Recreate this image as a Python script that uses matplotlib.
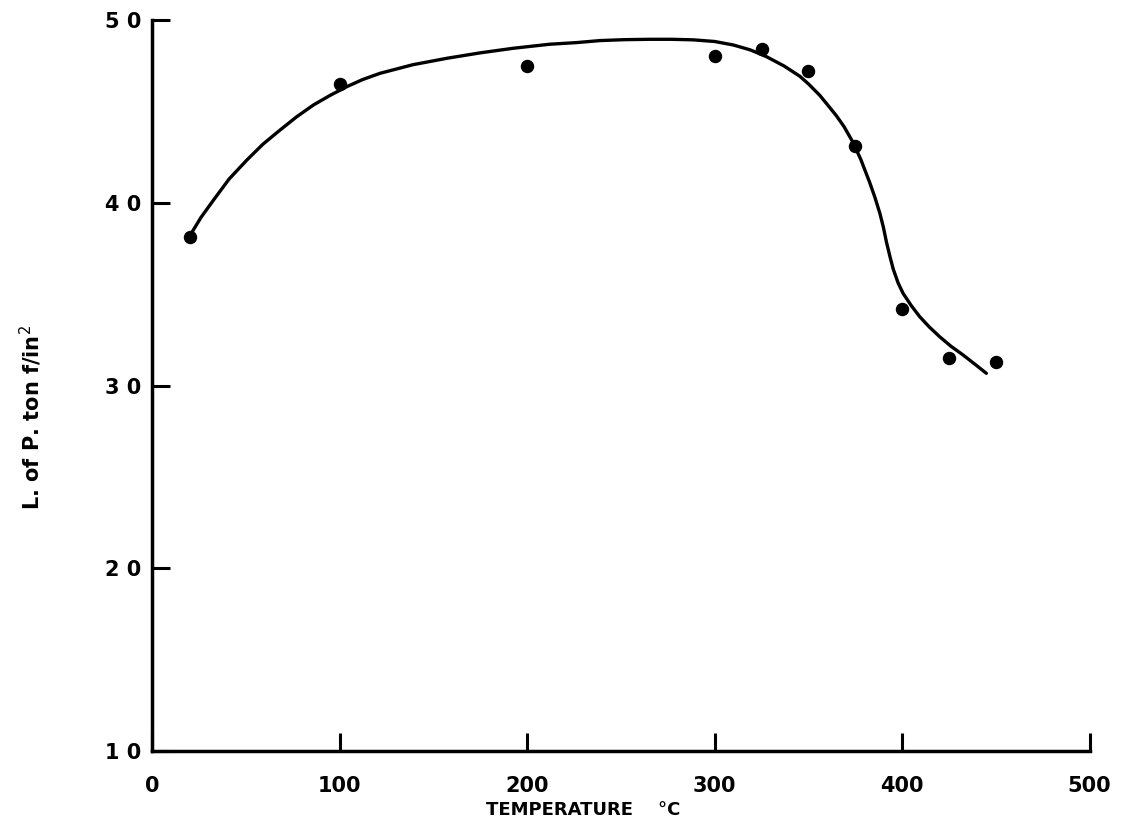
import numpy as np
import matplotlib
matplotlib.use("Agg")
from matplotlib import pyplot as plt

# measured points
temp = [20, 100, 200, 300, 325, 350, 375, 400, 425, 450]
lop = [38.1, 46.5, 47.5, 48.0, 48.4, 47.2, 43.1, 34.2, 31.5, 31.3]

# hand drawn curve
curve_t = [20.3, 26, 32.7, 41, 50.5, 59, 68.2, 77, 86.0, 95, 103.8, 112,
           121.5, 139, 157.1, 175, 192.6, 212, 226.4, 238.8, 252, 265.5,
           277, 288.5, 300, 309.9, 319, 327.6, 337, 345.4, 350, 356, 360,
           364.9, 369, 373.8, 378, 382.7, 385.5, 388.1, 390, 391.6, 393.5,
           395.2, 397.8, 400.5, 405, 409.4, 414.5, 420.0, 426, 432.5, 439,
           444.9]
curve_y = [38.24, 39.2, 40.15, 41.3, 42.34, 43.2, 43.98, 44.7, 45.35, 45.88,
           46.35, 46.73, 47.08, 47.55, 47.90, 48.2, 48.45, 48.67, 48.76,
           48.87, 48.92, 48.94, 48.94, 48.91, 48.82, 48.63, 48.36, 47.99,
           47.48, 46.92, 46.5, 45.88, 45.38, 44.76, 44.16, 43.3, 42.35, 41.1,
           40.28, 39.42, 38.65, 37.85, 37.05, 36.38, 35.62, 35.04, 34.35,
           33.76, 33.2, 32.67, 32.15, 31.67, 31.15, 30.67]

xticks = [0, 100, 200, 300, 400, 500]
yticks = [10, 20, 30, 40, 50]

plt.rcParams['font.family'] = ['DejaVu Sans']

fig = plt.figure(figsize=(11.28, 8.30), dpi=100)
ax = fig.add_axes([0.135, 0.095, 0.831, 0.881])

ax.plot(curve_t, curve_y, color='black', lw=2.4, solid_capstyle='round',
        solid_joinstyle='round')
ax.scatter(temp, lop, s=75, color='black', zorder=3)

ax.set_xlim(0, 500)
ax.set_ylim(10, 50)
ax.spines['top'].set_visible(False)
ax.spines['right'].set_visible(False)
for s in ['left', 'bottom']:
    ax.spines[s].set_linewidth(2.5)

ax.set_xticks(xticks)
ax.set_yticks(yticks)
ax.set_xticklabels([str(t) for t in xticks])
ax.set_yticklabels([" ".join(str(t)) for t in yticks])
ax.tick_params(axis='both', direction='in', length=13, width=2.2,
               labelsize=15)
ax.tick_params(axis='x', pad=18)
ax.tick_params(axis='y', pad=8)
for lab in ax.get_xticklabels() + ax.get_yticklabels():
    lab.set_fontweight('bold')

fig.text(0.517, 0.024, "TEMPERATURE    °C", ha='center', va='center',
         fontsize=13, fontweight='bold')
fig.text(0.027, 0.497, "L. of P. ton f/in$^2$", rotation=90, ha='center',
         va='center', fontsize=15, fontweight='bold')

fig.savefig("out.png", dpi=100, facecolor='white')
